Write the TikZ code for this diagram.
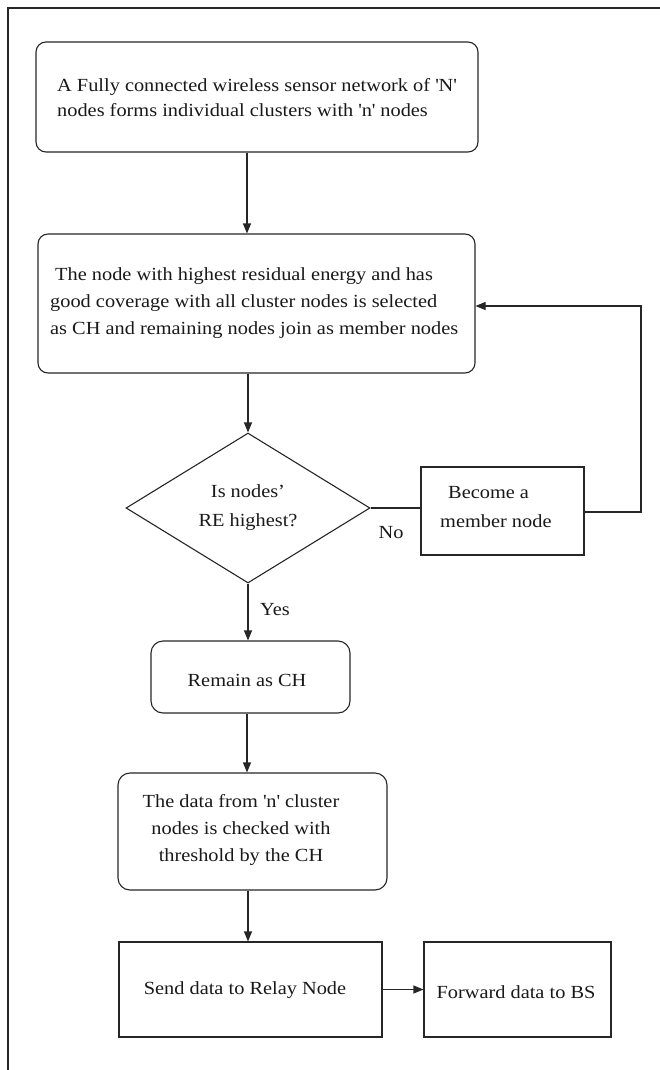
\documentclass[tikz,border=0pt]{standalone}
\usepackage{fontspec}
\setmainfont{Liberation Serif}[FakeStretch=1.1]
\usetikzlibrary{shapes.geometric,arrows.meta}
\begin{document}
\begin{tikzpicture}[x=1pt,y=-1pt,
  line/.style={draw=black!85, line width=1.1pt},
  arr/.style={line, -{Triangle[length=10pt,width=8pt]}},
  rbox/.style={line, rounded corners=10pt, inner sep=0pt},
  sbox/.style={line, inner sep=0pt},
  txt/.style={font=\fontsize{18.5}{27}\selectfont, text=black!90, inner sep=0pt}]
\useasboundingbox (0,0) rectangle (660,1070);
% frame
\coordinate (fbl) at (8,1070);
\coordinate (ftl) at (8,8);
\coordinate (ftr) at (660,8);
\draw[line] (fbl) -- (ftl) -- (ftr);
\coordinate (sp) at (247,0);

% box 1
\node[rbox, minimum width=442pt, minimum height=110pt] (b1) at (257,97) {};
\node[txt, font=\fontsize{18.5}{25}\selectfont, align=left, anchor=west] (t1) at (57,97.5)
  {A Fully connected wireless sensor network of \textquotesingle N\textquotesingle\\
   nodes forms individual clusters with \textquotesingle n\textquotesingle{} nodes};

% box 2
\node[rbox, minimum width=437pt, minimum height=139pt] (b2) at (256.5,303.5) {};
\node[txt, align=left, anchor=west] (t2) at (50,303.5)
  {\hspace*{5pt}The node with highest residual energy and has\\
   good coverage with all cluster nodes is selected\\
   as CH and remaining nodes join as member nodes};

% decision
\node[diamond, line, minimum width=244pt, minimum height=150pt, inner sep=0pt, aspect=1.63,
      txt, font=\fontsize{18.5}{29}\selectfont, align=center] (d) at (248,508)
  {Is nodes’\\RE highest?};
\node[txt] (no) at (391,533) {No};

% member box
\node[sbox, minimum width=163pt, minimum height=88pt] (m) at (502.5,511) {};
\node[txt, font=\fontsize{18.5}{29}\selectfont, align=left, anchor=west] (tm) at (440,507.5)
  {\hspace*{8pt}Become a\\member node};

% remain box
\node[rbox, rounded corners=12pt, minimum width=199pt, minimum height=72pt] (r) at (250.5,677) {};
\node[txt] (tr) at (247,680) {Remain as CH};
\node[txt] (yes) at (275,610) {Yes};

% box 3
\node[rbox, rounded corners=12pt, minimum width=269pt, minimum height=117pt] (b3) at (252.5,831.5) {};
\node[txt, align=center] (t3) at (241,830)
  {The data from \textquotesingle n\textquotesingle{} cluster\\
   nodes is checked with\\
   threshold by the CH};

% send / forward
\node[sbox, minimum width=263pt, minimum height=95pt] (s) at (250.5,989.5) {};
\node[txt] (ts) at (245,990) {Send data to Relay Node};
\node[sbox, minimum width=187pt, minimum height=95pt] (f) at (517.5,989.5) {};
\node[txt] (tf) at (516,992) {Forward data to BS};

% connectors
\draw[arr] (b1.south -| sp) -- (b2.north -| sp);
\draw[arr] (b2.south -| d.north) -- (d.north);
\draw[line] (d.east) -- (d.east -| m.west);
\coordinate (fb1) at (641,512);
\coordinate (fb2) at (641,306);
\draw[arr] (fb1 -| m.east) -- (fb1) -- (fb2) -- (fb2 -| b2.east);
\draw[arr] (d.south) -- (r.north -| d.south);
\draw[arr] (r.south -| sp) -- (b3.north -| sp);
\draw[arr] (b3.south -| d.south) -- (s.north -| d.south);
\draw[arr] (s.east) -- (f.west);
\end{tikzpicture}
\end{document}
